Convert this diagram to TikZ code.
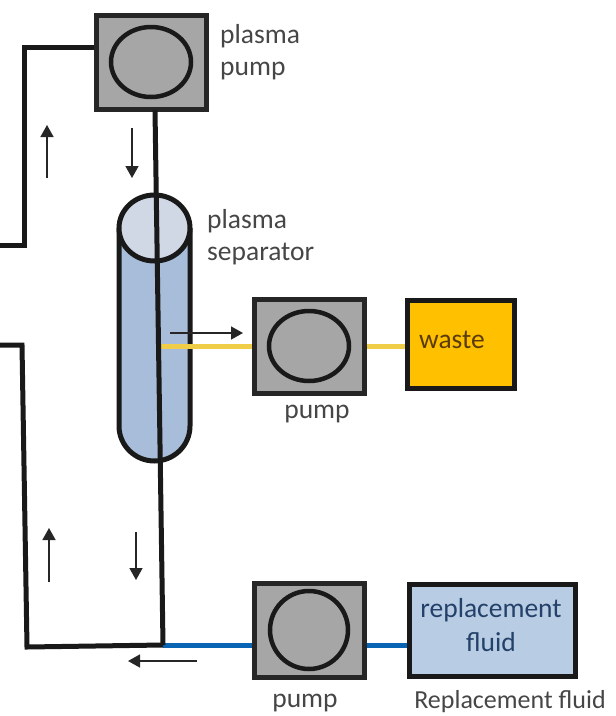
\documentclass[tikz,border=0pt]{standalone}
\usepackage{fontspec}
\setmainfont{Carlito}
\usetikzlibrary{arrows.meta,shapes.geometric}
\definecolor{pumpgray}{RGB}{166,166,166}
\definecolor{tubeblue}{RGB}{168,189,217}
\definecolor{capblue}{RGB}{208,215,229}
\definecolor{wasteor}{RGB}{255,192,0}
\definecolor{replblue}{RGB}{184,204,228}
\definecolor{linkyel}{RGB}{240,205,70}
\definecolor{linkblu}{RGB}{10,100,180}
\definecolor{lbl}{RGB}{70,70,70}
\definecolor{wastetxt}{RGB}{90,60,10}
\definecolor{repltxt}{RGB}{35,65,105}
\tikzset{
  pumpbox/.style={draw=black!85,line width=5pt,fill=pumpgray,minimum width=110pt,minimum height=94pt,inner sep=0pt},
  rotor/.style={draw=black!90,line width=4.5pt,fill=pumpgray,ellipse,minimum width=80pt,minimum height=70pt,inner sep=0pt},
  tube/.style={draw=black!90,line width=5pt,line join=miter},
  flow/.style={draw=black!85,line width=1.6pt,-{Triangle[length=12pt,width=13pt]}},
  lab/.style={text=lbl,font=\fontsize{27.5}{32}\selectfont,align=left,inner sep=0pt},
  tanklab/.style={font=\fontsize{27.5}{34}\selectfont,align=center,inner sep=0pt}
}
\begin{document}
\begin{tikzpicture}[x=1pt,y=-1pt]
\useasboundingbox (0,0) rectangle (616,716);
% cylinder
\draw[line width=5pt,draw=black!90,fill=tubeblue] (119,228) -- (119,426) arc[start angle=180,end angle=0,x radius=35.5,y radius=35] -- (190,228);
\draw[line width=5pt,draw=black!90,fill=capblue] (154.5,228) ellipse[x radius=35.5,y radius=33];
% named nodes
\node[pumpbox] (pp) at (151,62) {};
\node[rotor] (ppr) at (151,62) {};
\node[pumpbox] (wp) at (309,346) {};
\node[rotor] (wpr) at (309,346) {};
\node[pumpbox] (rp) at (309,630) {};
\node[rotor,minimum width=78pt,minimum height=78pt] (rpr) at (309,630) {};
\node[draw=black!90,line width=5pt,fill=wasteor,minimum width=107pt,minimum height=88pt,inner sep=0pt] (waste) at (461,344) {};
\node[draw=black!90,line width=5pt,fill=replblue,minimum width=166pt,minimum height=92pt,inner sep=0pt] (repl) at (492,630) {};
\node[inner sep=0pt,anchor=west,font=\fontsize{27.5}{32}\selectfont,text=wastetxt] (wastet) at (419,340) {waste};
\node[tanklab,text=repltxt] (replt) at (491,625) {replacement\\fluid};
% labels
\node[lab,anchor=north west] (l1) at (220,24) {plasma\\pump};
\node[lab,anchor=north west] (l2) at (207,209) {plasma\\separator};
\node[lab,anchor=center] (l3) at (317,414) {pump};
\node[lab,anchor=center] (l4) at (305,703) {pump};
\node[lab,anchor=center,font=\fontsize{26}{30}\selectfont] (l5) at (510,702) {Replacement fluid};
% free ends
\coordinate (topl) at (0,245);
\coordinate (botl) at (0,345);
\coordinate (junc) at (163,645);
\coordinate (sep) at (160,346);
% coloured links
\draw[linkyel,line width=5pt] (sep) -- (wp.west);
\draw[linkyel,line width=5pt] (wp.east) -- (wp.east -| waste.west);
\draw[linkblu,line width=5pt] (junc) -- (rp.west |- junc);
\draw[linkblu,line width=5pt] (rp.east |- junc) -- (repl.west |- junc);
% tubes
\draw[tube] (topl) -- (24,245) -- (24,47) -- (pp.west |- 0,47);
\draw[tube] (botl) -- (22,345) -- (27,647) -- (junc);
\draw[tube] (155,110) -- (junc);
% arrows
\draw[flow] (47,178) -- (47,125);
\draw[flow] (132,128) -- (132,178);
\draw[flow] (170,333) -- (243,333);
\draw[flow] (49,582) -- (49,528);
\draw[flow] (136,532) -- (136,580);
\draw[flow] (197,661) -- (128,661);
\end{tikzpicture}
\end{document}
